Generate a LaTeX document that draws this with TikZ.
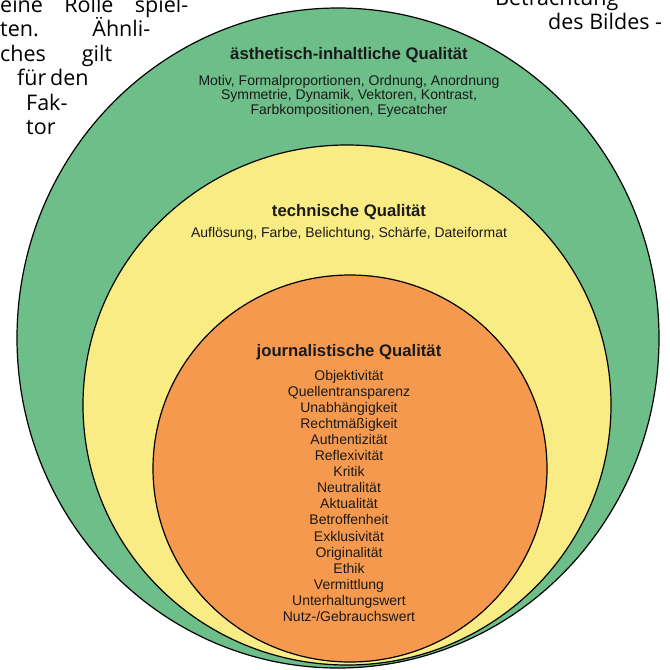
\documentclass[tikz,border=0pt]{standalone}
\usepackage{fontspec}
\setmainfont{Liberation Sans}
\newfontfamily\pagefont{Open Sans}
\definecolor{qgreen}{HTML}{6DBE88}
\definecolor{qyellow}{HTML}{FAEC84}
\definecolor{qorange}{HTML}{F4994E}
\definecolor{ink}{HTML}{1A1A1A}
\begin{document}
\begin{tikzpicture}[x=1pt,y=-1pt,
  ring/.style={draw=black,line width=1.2pt},
  qtitle/.style={font=\fontsize{16.7}{18}\selectfont\bfseries, text=ink, inner sep=0pt, anchor=base},
  qitem/.style={font=\fontsize{14}{16}\selectfont, text=ink, inner sep=0pt, anchor=base},
  pagetext/.style={font=\pagefont\fontsize{21.5}{24}\selectfont, text=black, inner sep=0pt, anchor=base west}]
\useasboundingbox (0,0) rectangle (670,670);
\fill[white] (0,0) rectangle (670,670);
\clip (0,0) rectangle (670,670);
% rings
\filldraw[ring, fill=qgreen]  (338,338)   ellipse [x radius=321pt, y radius=330pt];
\filldraw[ring, fill=qyellow] (347,405)   ellipse [x radius=264pt, y radius=260pt];
\filldraw[ring, fill=qorange] (350,468.5) ellipse [x radius=197pt, y radius=193.5pt];
% outer ring texts
\node[qtitle] (gt) at (349,59) {ästhetisch-inhaltliche Qualität};
\node[qitem] (g1) at (349,85) {Motiv, Formalproportionen, Ordnung, Anordnung};
\node[qitem] (g2) at (349,99.5) {Symmetrie, Dynamik, Vektoren, Kontrast,};
\node[qitem] (g3) at (349,114) {Farbkompositionen, Eyecatcher};
% middle ring texts
\node[qtitle] (yt) at (349,216) {technische Qualität};
\node[qitem] (y1) at (349,237) {Auflösung, Farbe, Belichtung, Schärfe, Dateiformat};
% inner ring texts
\node[qtitle] (ot) at (349,356) {journalistische Qualität};
\foreach \t [count=\i] in {Objektivität, Quellentransparenz, Unabhängigkeit, Rechtmäßigkeit,
  Authentizität, Reflexivität, Kritik, Neutralität, Aktualität, Betroffenheit, Exklusivität,
  Originalität, Ethik, Vermittlung, Unterhaltungswert, Nutz-/Gebrauchswert}
  \node[qitem] (j\i) at (349,{380+(\i-1)*16.1}) {\t};
% surrounding page text
\node[pagetext] (l1) at (0,12) {\hbox to 188pt{eine \hfil Rolle \hfil spiel-}};
\node[pagetext] (l2) at (0,36.5) {\hbox to 150pt{ten. \hfil Ähnli-}};
\node[pagetext] (l3) at (0,61) {\hbox to 112pt{ches \hfil gilt}};
\node[pagetext] (l4) at (17,85.5) {\hbox to 70pt{für \hfil den}};
\node[pagetext] (l5) at (26,110) {Fak-};
\node[pagetext] (l6) at (26,134) {tor};
\node[pagetext] (r1) at (495,5) {Betrachtung};
\node[pagetext] (r2) at (548,29) {des Bildes -};
\end{tikzpicture}
\end{document}
